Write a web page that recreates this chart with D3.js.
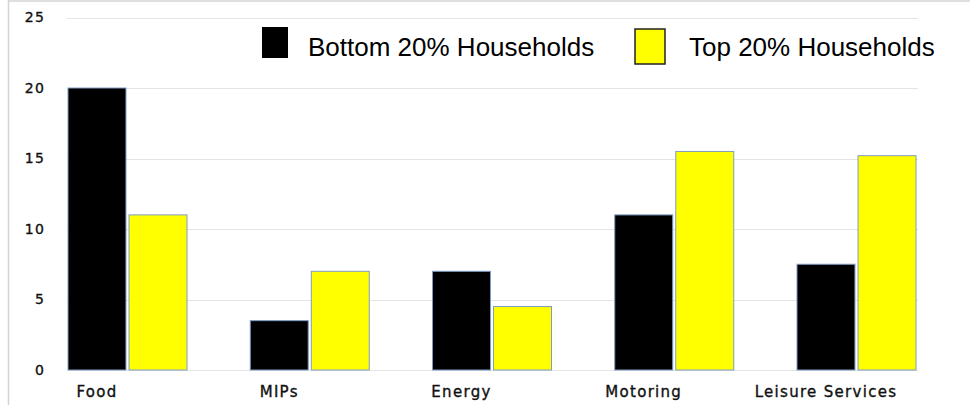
<!DOCTYPE html>
<html>
<head>
<meta charset="utf-8">
<script src="https://cdn.jsdelivr.net/npm/d3@7"></script>
<style>
  html, body { margin: 0; padding: 0; background: #fff; }
  svg { display: block; }
</style>
</head>
<body>
<svg id="chart" width="970" height="405"></svg>
<script>
const categories = ["Food", "MIPs", "Energy", "Motoring", "Leisure Services"];
const seriesNames = ["Bottom 20% Households", "Top 20% Households"];
const bottom20 = [20, 3.5, 7, 11, 7.5];
const top20 = [11, 7, 4.5, 15.5, 15.2];
const yTicks = [0, 5, 10, 15, 20, 25];

const colors = ["#000000", "#ffff00"];
const data = categories.map((c, i) => ({ cat: c, values: [bottom20[i], top20[i]] }));

const svg = d3.select("#chart");

// outer frame
svg.append("line").attr("x1", 8.5).attr("x2", 8.5).attr("y1", 0).attr("y2", 405)
  .attr("stroke", "#d4d4d4").attr("stroke-width", 1.5);
svg.append("line").attr("x1", 8).attr("x2", 970).attr("y1", 1).attr("y2", 1)
  .attr("stroke", "#d4d4d4").attr("stroke-width", 1.5);

const y = d3.scaleLinear().domain([0, 25]).range([370, 17.5]);
const x0 = d3.scaleBand().domain(categories).range([68, 916]).paddingInner(0.347).paddingOuter(0);
const x1 = d3.scaleBand().domain([0, 1]).range([0, x0.bandwidth()]).paddingInner(0.05);

// gridlines
svg.append("g").selectAll("line").data(yTicks).join("line")
  .attr("x1", 67).attr("x2", 918)
  .attr("y1", d => Math.round(y(d)) + 0.5).attr("y2", d => Math.round(y(d)) + 0.5)
  .attr("stroke", "#e4e4e4").attr("stroke-width", 1);

// y axis labels
const yAxis = d3.axisLeft(y).tickValues(yTicks).tickSize(0).tickPadding(0);
const yg = svg.append("g").attr("transform", "translate(45,0)").call(yAxis);
yg.select(".domain").remove();
yg.selectAll("text")
  .attr("font-family", "DejaVu Sans, Verdana, sans-serif")
  .attr("font-size", 14).attr("fill", "#111")
  .attr("stroke", "#111").attr("stroke-width", 0.35)
  .attr("letter-spacing", 1.2);

// bars
const groups = svg.append("g").selectAll("g").data(data).join("g")
  .attr("transform", d => `translate(${x0(d.cat)},0)`);
groups.selectAll("rect").data(d => d.values.map((v, i) => ({ v, i }))).join("rect")
  .attr("x", d => x1(d.i))
  .attr("y", d => y(d.v))
  .attr("width", x1.bandwidth())
  .attr("height", d => y(0) - y(d.v))
  .attr("fill", d => colors[d.i])
  .attr("stroke", "#7f9cc4").attr("stroke-width", 1);

// category labels (centred under first bar of each group)
svg.append("g").selectAll("text").data(categories).join("text")
  .attr("x", c => x0(c) + x1(0) + x1.bandwidth() / 2)
  .attr("y", 397)
  .attr("text-anchor", "middle")
  .attr("font-family", "DejaVu Sans, Verdana, sans-serif")
  .attr("font-size", 15).attr("fill", "#111")
  .attr("stroke", "#111").attr("stroke-width", 0.35)
  .attr("letter-spacing", 1.3)
  .text(c => c);

// legend
const legendItems = [
  { name: seriesNames[0], color: colors[0], bx: 262, by: 27, bw: 26, bh: 31, stroke: "none", tx: 308 },
  { name: seriesNames[1], color: colors[1], bx: 635, by: 29, bw: 30, bh: 35, stroke: "#222", tx: 689 }
];
const lg = svg.append("g");
legendItems.forEach(it => {
  lg.append("rect").attr("x", it.bx).attr("y", it.by).attr("width", it.bw).attr("height", it.bh)
    .attr("fill", it.color).attr("stroke", it.stroke).attr("stroke-width", 1.5);
  lg.append("text").attr("x", it.tx).attr("y", 56)
    .attr("font-family", "Liberation Sans, Arial, sans-serif")
    .attr("font-size", 26).attr("fill", "#000")
    .text(it.name);
});
</script>
</body>
</html>
